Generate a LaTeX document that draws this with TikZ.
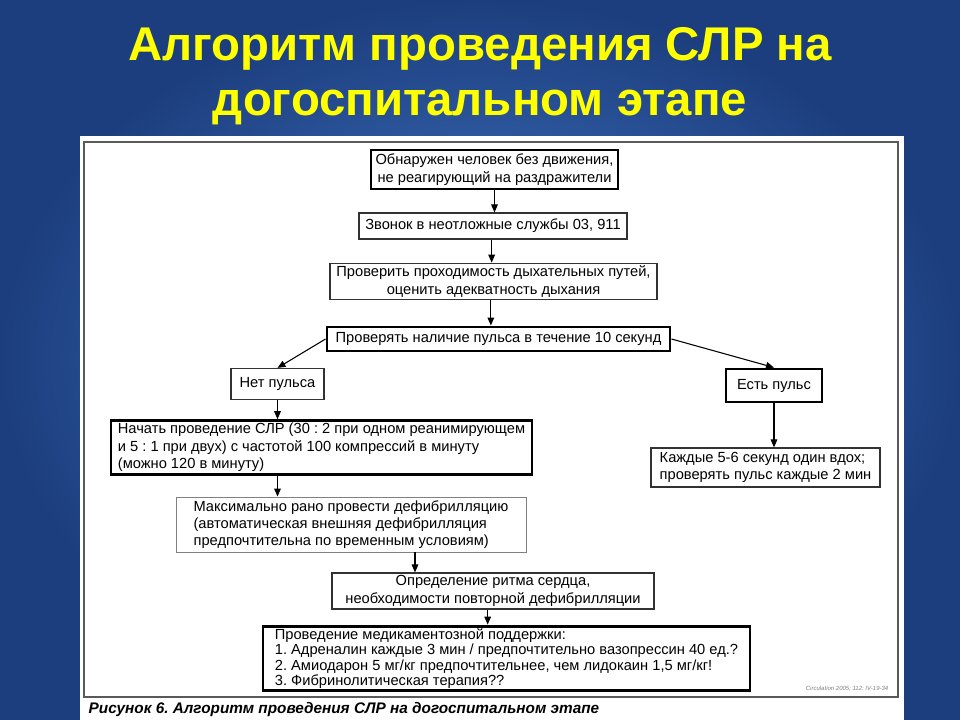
\documentclass[tikz,border=0pt]{standalone}
\usepackage{fontspec}
\setmainfont{Liberation Sans}
\usetikzlibrary{arrows.meta,calc}
\definecolor{bgin}{RGB}{70,124,204}
\definecolor{bgout}{RGB}{28,62,126}
\definecolor{ttl}{RGB}{255,255,0}
\definecolor{thinln}{RGB}{50,50,50}
\frenchspacing
\begin{document}
\begin{tikzpicture}[x=0.75pt,y=-0.75pt,
  every node/.style={font=\fontsize{11}{13}\selectfont, text=black},
  thinbox/.style={draw=thinln, line width=0.9pt, fill=white, inner sep=2pt},
  thickbox/.style={draw=black, line width=2.2pt, fill=white, inner sep=2pt},
  greybox/.style={draw=gray, line width=0.7pt, fill=white, inner sep=2pt},
  arr/.style={draw=black, line width=0.8pt, -{Triangle[length=6pt,width=5pt]}},
  sz/.style 2 args={minimum width=#1*0.75pt, minimum height=#2*0.75pt}]
\useasboundingbox (0,0) rectangle (960,720);
\shade[inner color=bgin, outer color=bgout] (0,0) rectangle (960,720);
\node[font=\fontsize{35.5}{41.5}\selectfont\bfseries, text=ttl, align=center] (title) at (480,76)
  {Алгоритм проведения СЛР на\\догоспитальном этапе};
\fill[white] (80,136) rectangle (904,720);
\draw[gray!70!black, line width=1pt] (84,142) rectangle (898,697);

\node[thickbox, sz={247}{39}, align=center] (b1) at (494.5,169.5)
  {Обнаружен человек без движения,\\не реагирующий на раздражители};
\node[thinbox, sz={268}{26}] (b2) at (493,226) {Звонок в неотложные службы 03, 911};
\node[thinbox, sz={327}{35}, align=center] (b3) at (493.5,281.5)
  {Проверить проходимость дыхательных путей,\\оценить адекватность дыхания};
\node[thickbox, sz={343}{24}] (b4) at (498.5,339) {Проверять наличие пульса в течение 10 секунд};
\node[thinbox, sz={93}{31}] (b5) at (277.5,384) {Нет пульса};
\node[thickbox, sz={96}{33}] (b6) at (774,385.5) {Есть пульс};
\node[thickbox, sz={421}{53}, align=left] (b7) at (321.5,447.5)
  {Начать проведение СЛР (30 : 2 при одном реанимирующем\\и 5 : 1 при двух) с частотой 100 компрессий в минуту\\(можно 120 в минуту)};
\node[thinbox, sz={229}{39}, align=left] (b8) at (765.5,467.5)
  {Каждые 5-6 секунд один вдох;\\проверять пульс каждые 2 мин};
\node[greybox, sz={350}{55}, align=left] (b9) at (351,524.5)
  {Максимально рано провести дефибрилляцию\\(автоматическая внешняя дефибрилляция\\предпочтительна по временным условиям)};
\node[thinbox, sz={322}{30}, align=center] (b10) at (493,591)
  {Определение ритма сердца,\\необходимости повторной дефибрилляции};
\node[thickbox, sz={487}{64}, align=left, font=\fontsize{11}{11.4}\selectfont] (b11) at (506.5,658.5)
  {Проведение медикаментозной поддержки:\\1. Адреналин каждые 3 мин / предпочтительно вазопрессин 40 ед.?\\2. Амиодарон 5 мг/кг предпочтительнее, чем лидокаин 1,5 мг/кг!\\3. Фибринолитическая терапия??};
\node[font=\fontsize{4.5}{5}\selectfont\itshape, text=gray, anchor=east] (cite) at (893,689)
  {Circulation 2005; 112: IV-19-34};
\node[font=\fontsize{11.5}{13}\selectfont\bfseries\itshape, anchor=west] (cap) at (84,710)
  {Рисунок 6. Алгоритм проведения СЛР на догоспитальном этапе};

\coordinate (m1) at (415,0);
\draw[arr] (b1.south) -- (b1.south |- b2.north);
\draw[arr] ([xshift=-1pt]b2.south) -- ([xshift=-1pt]b2.south |- b3.north);
\draw[arr] ([xshift=-2pt]b3.south) -- ([xshift=-2pt]b3.south |- b4.north);
\draw[arr] (b4.west) -- (b5.north);
\draw[arr] (b4.east) -- (b6.north);
\draw[arr] (b5.south) -- (b5.south |- b7.north);
\draw[arr] (b5.south |- b7.south) -- (b5.south |- b9.north);
\draw[arr] (b6.south) -- (b6.south |- b8.north);
\draw[arr] (b9.south -| m1) -- (b10.north -| m1);
\draw[arr] ([xshift=-4pt]b10.south) -- ([xshift=-4pt]b10.south |- b11.north);
\end{tikzpicture}
\end{document}
